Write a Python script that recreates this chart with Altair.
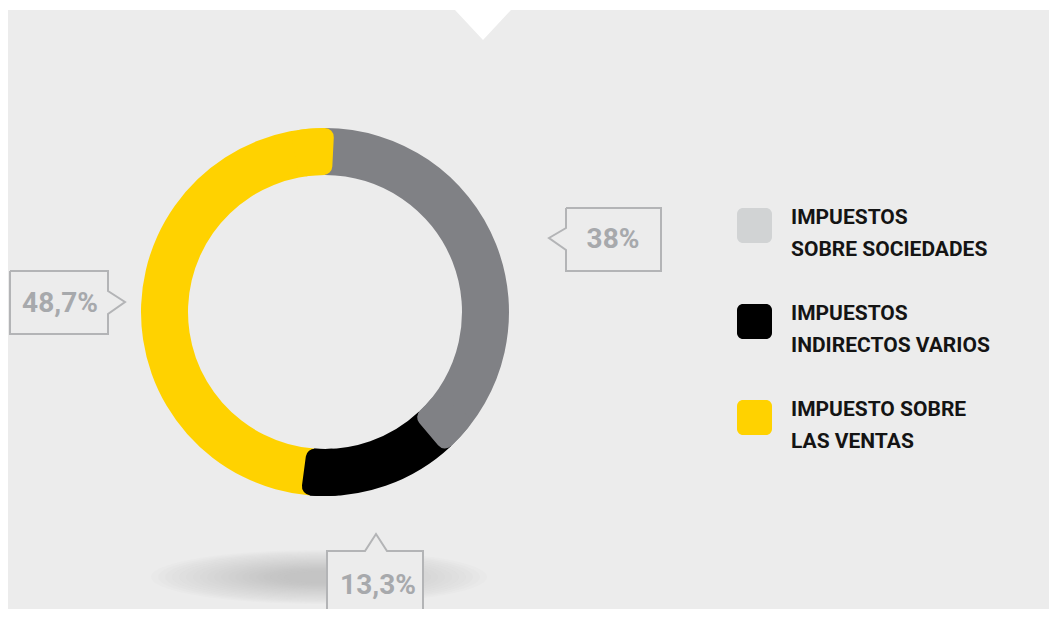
import altair as alt
import pandas as pd

# ---------------- data ----------------
categories = ["IMPUESTOS SOBRE SOCIEDADES", "IMPUESTOS INDIRECTOS VARIOS", "IMPUESTO SOBRE LAS VENTAS"]
shares = [38.0, 13.3, 48.7]
share_labels = ["38%", "13,3%", "48,7%"]
legend_lines = [["IMPUESTOS", "SOBRE SOCIEDADES"],
                ["IMPUESTOS", "INDIRECTOS VARIOS"],
                ["IMPUESTO SOBRE", "LAS VENTAS"]]

# ---------------- styling / layout ----------------
slice_colors = ["#808185", "#000000", "#FFD200"]
swatch_colors = ["#D1D3D4", "#000000", "#FFD200"]
BG = "#ECECEC"
FONT = "Roboto"
CX, CY = 325, 312
R_IN, R_OUT = 137, 184

# reference-pixel coordinate system (page margin 8px)
X0, X1 = 8, 1049
Y0, Y1 = 8, 609
xs = alt.Scale(domain=[X0, X1], nice=False, zero=False)
ys = alt.Scale(domain=[Y0, Y1], nice=False, zero=False, reverse=True)
ths = alt.Scale(domain=[0, 100], range=[0, 6.283185307])


def X(f):
    return alt.X(f, type="quantitative", scale=xs, axis=None)


def Y(f):
    return alt.Y(f, type="quantitative", scale=ys, axis=None)


# top white strip with notch
strip = pd.DataFrame({"x": [X0, 455, 483, 511, X1], "y": [10, 10, 40, 10, 10], "y2": [Y0] * 5})
strip_layer = alt.Chart(strip).mark_area(color="white").encode(
    x=X("x"), y=Y("y"), y2="y2")

# soft shadow under donut: concentric translucent ellipses
ellipse_path = "M-1,0A1,0.16 0 1,0 1,0A1,0.16 0 1,0 -1,0Z"
half_widths = [168, 161, 154, 147, 140, 133, 126, 119, 112, 105, 98, 91, 84, 77, 70, 63, 56, 49, 42, 35]
shadow = pd.DataFrame({"x": [CX - 6] * len(half_widths), "y": [577] * len(half_widths),
                       "s": [(2 * h) ** 2 for h in half_widths]})
shadow_layer = alt.Chart(shadow).mark_point(
    shape=ellipse_path, filled=True, color="#9c9d9f", opacity=0.034, strokeWidth=0,
).encode(x=X("x"), y=Y("y"), size=alt.Size("s:Q", scale=None, legend=None))

# donut
pie = pd.DataFrame({"cat": categories, "value": shares, "order": [0, 1, 2],
                    "color": slice_colors, "cx": [CX] * 3, "cy": [CY] * 3})
base = alt.Chart(pie).transform_window(
    cum="sum(value)", sort=[alt.SortField("order")], frame=[None, 0]
).transform_calculate(start="datum.cum - datum.value",
                      cs="datum.cum - 3", ce="datum.cum + 0.8")
arcs = base.mark_arc(innerRadius=R_IN, outerRadius=R_OUT).encode(
    theta=alt.Theta("start:Q", scale=ths, stack=None),
    theta2="cum:Q",
    color=alt.Color("color:N", scale=None),
    x=X("cx"), y=Y("cy"))
caps = base.mark_arc(innerRadius=R_IN, outerRadius=R_OUT, cornerRadius=9).encode(
    theta=alt.Theta("cs:Q", scale=ths, stack=None),
    theta2="ce:Q",
    color=alt.Color("color:N", scale=None),
    x=X("cx"), y=Y("cy"))

# callout boxes
box_rects = pd.DataFrame({"x": [10, 566, 327], "x2": [108, 661, 423],
                          "y": [271, 208, 551], "y2": [334, 271, 640]})
box_fill = alt.Chart(box_rects).mark_rect(color=BG).encode(
    x=X("x"), x2="x2", y=Y("y"), y2="y2")

outline_pts = []
shapes = {
    "a": [(10, 271), (108, 271), (108, 291), (125, 302), (108, 314), (108, 334), (10, 334), (10, 271)],
    "b": [(566, 208), (661, 208), (661, 271), (566, 271), (566, 250), (549, 238), (566, 228), (566, 208)],
    "c": [(327, 640), (327, 551), (365, 551), (376, 534), (387, 551), (423, 551), (423, 640)],
}
for k, pts in shapes.items():
    for i, (px, py) in enumerate(pts):
        outline_pts.append({"shape": k, "i": i, "x": px, "y": py})
outline = pd.DataFrame(outline_pts)
box_lines = alt.Chart(outline).mark_line(color="#b3b4b6", strokeWidth=2, strokeJoin="miter").encode(
    x=X("x"), y=Y("y"), detail="shape:N", order="i:Q")

callout_text = pd.DataFrame({"label": [share_labels[2], share_labels[0], share_labels[1]],
                             "x": [60, 613, 378], "y": [312, 248, 594]})
callout_layer = alt.Chart(callout_text).mark_text(
    font=FONT, fontWeight="bold", fontSize=28, color="#a7a9ac",
    align="center", baseline="alphabetic").encode(x=X("x"), y=Y("y"), text="label:N")

# legend
sw = pd.DataFrame({"x": [737] * 3, "x2": [772] * 3, "y": [208, 304, 400], "y2": [243, 339, 435],
                   "color": swatch_colors})
swatches = alt.Chart(sw).mark_rect(cornerRadius=6).encode(
    x=X("x"), x2="x2", y=Y("y"), y2="y2", color=alt.Color("color:N", scale=None))

leg_rows = []
line_y = [(224, 256), (320, 352), (416, 448)]
for lines, ys_ in zip(legend_lines, line_y):
    for t, yy in zip(lines, ys_):
        leg_rows.append({"t": t, "x": 791, "y": yy})
leg_text = alt.Chart(pd.DataFrame(leg_rows)).mark_text(
    font=FONT, fontWeight="bold", fontSize=21, color="#141414",
    align="left", baseline="alphabetic").encode(x=X("x"), y=Y("y"), text="t:N")

chart = alt.layer(strip_layer, shadow_layer, arcs, caps, box_fill, box_lines,
                  callout_layer, swatches, leg_text).properties(
    width=X1 - X0, height=Y1 - Y0, padding=0, autosize="none"
).configure(background=BG).configure_view(stroke=None)

chart.save("out.html", embed_options={"renderer": "svg", "actions": False})
